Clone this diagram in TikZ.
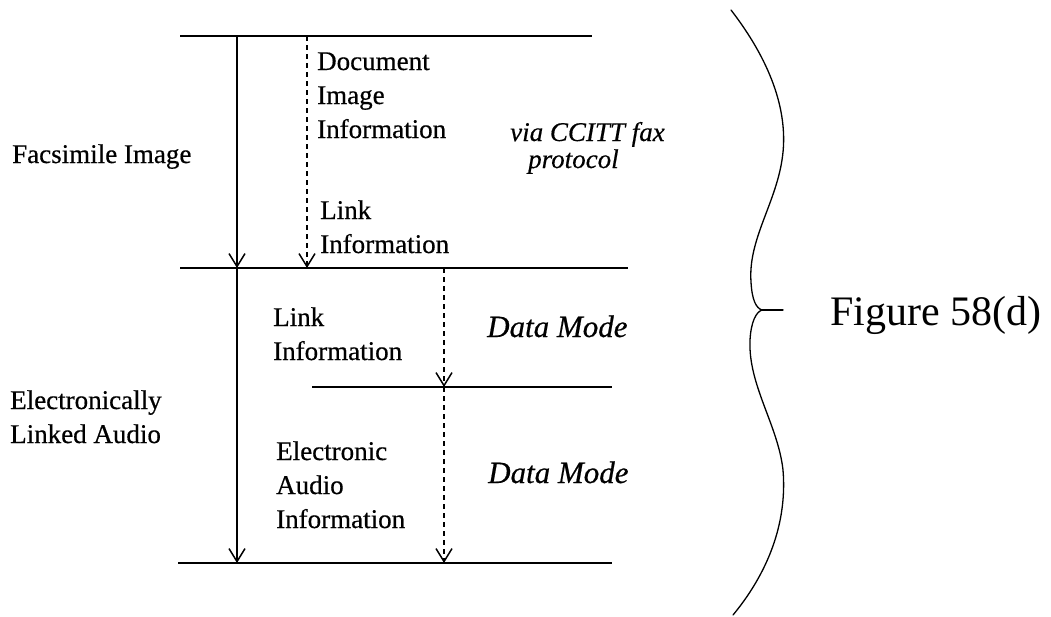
\documentclass[tikz,border=0pt]{standalone}
\usepackage{fontspec}
\setmainfont{Liberation Serif}[FakeBold=0.5]
\newfontfamily\figfont{Liberation Serif}
\usetikzlibrary{arrows.meta}
\begin{document}
\begin{tikzpicture}[x=1pt,y=-1pt,
  hline/.style={line width=2pt},
  tipstyle/.style={-{Straight Barb[length=13pt,width=16pt,line width=1.5pt]}},
  solidarrow/.style={line width=1.3pt,tipstyle},
  dasharrow/.style={line width=1.2pt,dash pattern=on 5pt off 4pt,tipstyle},
  lbl/.style={anchor=base west,inner sep=0pt,align=left,font=\fontsize{27}{34}\selectfont},
  mode/.style={anchor=base west,inner sep=0pt,font=\fontsize{31}{34}\selectfont\itshape},
  brace/.style={line width=1.3pt,line cap=round}]
\useasboundingbox (0,0) rectangle (1051,616);

% horizontal layer lines
\draw[hline] (180,36) -- (592,36);
\draw[hline] (180,268) -- (628,268);
\draw[hline] (312,387) -- (612,387);
\draw[hline] (178,563) -- (612,563);

% arrow end points on the lines
\coordinate (s1a) at (237,36);
\coordinate (s1b) at (237,268);
\coordinate (s2b) at (237,563);
\coordinate (d1a) at (307,36);
\coordinate (d1b) at (307,268);
\coordinate (d2a) at (444,268);
\coordinate (d2b) at (444,387);
\coordinate (d3b) at (444,563);

\draw[solidarrow] (s1a) -- (s1b);
\draw[solidarrow] (s1b) -- (s2b);
\draw[dasharrow] (d1a) -- (d1b);
\draw[dasharrow] (d2a) -- (d2b);
\draw[dasharrow] (d2b) -- (d3b);

% labels (base anchor = baseline of the last line)
\node[lbl] (fax) at (12,163) {Facsimile Image};
\node[lbl] (doc) at (317,138) {Document\\Image\\Information};
\node[lbl] (link1) at (320,253) {Link\\Information};
\node[anchor=base west,inner sep=0pt,align=left,font=\fontsize{27}{27}\selectfont\itshape] (via) at (510,168) {via CCITT fax\\\hspace*{18pt}protocol};
\node[lbl] (link2) at (273,360) {Link\\Information};
\node[mode] (dm1) at (487,337) {Data Mode};
\node[lbl] (ela) at (10,443) {Electronically\\Linked Audio};
\node[lbl] (eai) at (276,528) {Electronic\\Audio\\Information};
\node[mode] (dm2) at (488,483) {Data Mode};

% brace
\coordinate (tip) at (762,310);
\draw[brace] (731,10) .. controls (768,58) and (790,110) .. (782,160)
  .. controls (775,205) and (748,240) .. (751,282)
  .. controls (752,300) and (756,308) .. (tip)
  .. controls (756,312) and (751,322) .. (750,340)
  .. controls (748,385) and (778,425) .. (783,470)
  .. controls (788,530) and (762,580) .. (733,615);
\draw[brace] (tip) -- (783,310);
\node[anchor=base west,inner sep=0pt,font=\fontsize{42}{48}\figfont] (fig) at (830,325) {Figure 58(d)};
\end{tikzpicture}
\end{document}
